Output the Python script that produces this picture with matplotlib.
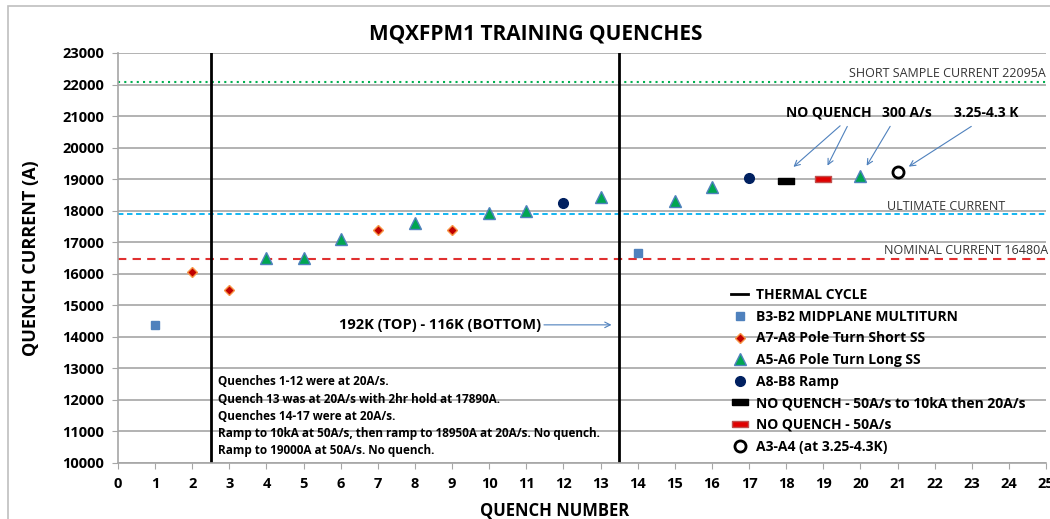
import matplotlib.pyplot as plt
from matplotlib.patches import Rectangle

# Quench data by origin
b3b2_x = [1, 14]
b3b2_y = [14380, 16660]
a7a8_x = [2, 3, 7, 9]
a7a8_y = [16050, 15470, 17390, 17390]
a5a6_x = [4, 5, 6, 8, 10, 11, 13, 15, 16, 20]
a5a6_y = [16500, 16510, 17100, 17610, 17930, 17990, 18430, 18300, 18750, 19090]
a8b8_x = [12, 17]
a8b8_y = [18240, 19040]
noq1_x = [18]
noq1_y = [18950]
noq2_x = [19]
noq2_y = [19000]
a3a4_x = [21]
a3a4_y = [19230]

thermal_cycles = [2.5, 13.5]
short_sample = 22095
ultimate = 17890
nominal = 16480

notes = ["Quenches 1-12 were at 20A/s.",
         "Quench 13 was at 20A/s with 2hr hold at 17890A.",
         "Quenches 14-17 were at 20A/s.",
         "Ramp to 10kA at 50A/s, then ramp to 18950A at 20A/s. No quench.",
         "Ramp to 19000A at 50A/s. No quench."]

plt.rcParams['font.family'] = ['Open Sans', 'DejaVu Sans']
plt.rcParams['font.weight'] = 'bold'

fig = plt.figure(figsize=(10.5, 5.19), dpi=100)
fig.patches.append(Rectangle((0.008, -0.01), 1.2, 0.998, transform=fig.transFigure,
                             fill=False, edgecolor='#bfbfbf', linewidth=1.2))
ax = fig.add_axes([0.1124, 0.1079, 0.8838, 0.79])

ax.set_xlim(0, 25)
ax.set_ylim(10000, 23000)
ax.set_xticks(range(0, 26))
ax.set_yticks(range(10000, 23001, 1000))
ax.yaxis.grid(True, color='#a6a6a6', linewidth=1.2)
ax.set_axisbelow(True)
for side in ['top', 'right']:
    ax.spines[side].set_visible(False)
for side in ['left', 'bottom']:
    ax.spines[side].set_color('#a6a6a6')
    ax.spines[side].set_linewidth(1.2)
ax.tick_params(axis='both', direction='out', color='#a6a6a6', length=4,
               labelsize=10.5, pad=6)
for lbl in ax.get_xticklabels() + ax.get_yticklabels():
    lbl.set_fontweight('bold')

# reference currents
ax.axhline(short_sample, color='#00b050', linestyle=(0, (1, 2)), linewidth=1.5)
ax.axhline(ultimate, color='#00b0f0', linestyle=(0, (3, 2)), linewidth=1.3)
ax.axhline(nominal, color='#e03030', linestyle=(0, (4, 3)), linewidth=1.5)
ax.text(24.98, short_sample + 60, 'SHORT SAMPLE CURRENT 22095A', ha='right', va='bottom',
        fontsize=9, fontweight='normal', color='#333333')
ax.text(23.9, ultimate + 40, 'ULTIMATE CURRENT', ha='right', va='bottom',
        fontsize=9, fontweight='normal', color='#333333')
ax.text(25.05, nominal + 40, 'NOMINAL CURRENT 16480A', ha='right', va='bottom',
        fontsize=9, fontweight='normal', color='#333333', clip_on=False)

# thermal cycles
for i, tc in enumerate(thermal_cycles):
    ax.axvline(tc, color='black', linewidth=2, label='THERMAL CYCLE' if i == 0 else None)

ax.plot(b3b2_x, b3b2_y, 's', color='#4f81bd', markersize=6, label='B3-B2 MIDPLANE MULTITURN')
ax.plot(a7a8_x, a7a8_y, 'D', color='#c00000', markeredgecolor='#f79646', markersize=5.5,
        markeredgewidth=1, label='A7-A8 Pole Turn Short SS')
ax.plot(a5a6_x, a5a6_y, '^', color='#00a651', markeredgecolor='#4f81bd', markersize=9,
        markeredgewidth=1, label='A5-A6 Pole Turn Long SS')
ax.plot(a8b8_x, a8b8_y, 'o', color='#002060', markersize=7, label='A8-B8 Ramp')
bar_marker = [(-1, -0.4), (1, -0.4), (1, 0.4), (-1, 0.4), (-1, -0.4)]
ax.plot(noq1_x, noq1_y, linestyle='none', marker=bar_marker, color='black', markersize=12,
        label='NO QUENCH - 50A/s to 10kA then 20A/s')
ax.plot(noq2_x, noq2_y, linestyle='none', marker=bar_marker, color='#e00000',
        markeredgecolor='#c0504d', markersize=12, label='NO QUENCH - 50A/s')
ax.plot(a3a4_x, a3a4_y, 'o', markerfacecolor='white', markeredgecolor='black',
        markeredgewidth=2, markersize=8, label='A3-A4 (at 3.25-4.3K)')

leg = ax.legend(loc='upper left', bbox_to_anchor=(0.655, 0.44), frameon=False,
                fontsize=10, handlelength=1.2, labelspacing=0.55, handletextpad=0.6,
                borderaxespad=0)
for t in leg.get_texts():
    t.set_fontweight('bold')

# callouts
arrow = dict(arrowstyle='->', color='#4f81bd', linewidth=0.8)
ax.annotate('', xy=(18.14, 19330), xytext=(19.51, 20750), arrowprops=arrow)
ax.annotate('', xy=(19.08, 19350), xytext=(19.68, 20750), arrowprops=arrow)
ax.text(19.16, 21100, 'NO QUENCH', ha='center', va='center', fontsize=10, fontweight='bold')
ax.annotate('', xy=(20.13, 19350), xytext=(20.84, 20750), arrowprops=arrow)
ax.text(21.25, 21100, '300 A/s', ha='center', va='center', fontsize=10, fontweight='bold')
ax.annotate('', xy=(21.24, 19350), xytext=(23.05, 20720), arrowprops=arrow)
ax.text(23.38, 21100, '3.25-4.3 K', ha='center', va='center', fontsize=10, fontweight='bold')

ax.annotate('', xy=(13.37, 14380), xytext=(11.4, 14380), arrowprops=arrow)
ax.text(11.4, 14380, '192K (TOP) - 116K (BOTTOM)', ha='right', va='center',
        fontsize=10.5, fontweight='bold')

ax.text(2.7, 11480, '\n'.join(notes), ha='left', va='center', fontsize=8.5,
        fontweight='bold', linespacing=1.42)

ax.set_title('MQXFPM1 TRAINING QUENCHES', fontsize=15, fontweight='bold', pad=10, x=0.45)
ax.set_xlabel('QUENCH NUMBER', fontsize=12, fontweight='bold', labelpad=5)
ax.xaxis.set_label_coords(0.47, -0.095)
ax.set_ylabel('QUENCH CURRENT (A)', fontsize=13, fontweight='bold', labelpad=16)

fig.savefig('out.png', dpi=100)
